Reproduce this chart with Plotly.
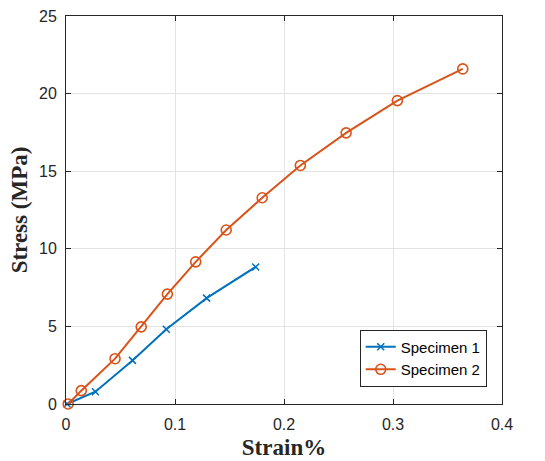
import plotly.graph_objects as go

# Data
s1_strain = [0.001, 0.027, 0.061, 0.092, 0.129, 0.174]
s1_stress = [0.0, 0.79, 2.81, 4.82, 6.82, 8.83]

s2_strain = [0.002, 0.014, 0.045, 0.069, 0.093, 0.119, 0.147, 0.180, 0.215, 0.257, 0.304, 0.364]
s2_stress = [0.0, 0.86, 2.92, 4.97, 7.08, 9.16, 11.21, 13.29, 15.37, 17.47, 19.55, 21.59]

x_ticks = [0, 0.1, 0.2, 0.3, 0.4]
x_ticklabels = ["0", "0.1", "0.2", "0.3", "0.4"]
y_ticks = [0, 5, 10, 15, 20, 25]
y_ticklabels = ["0", "5", "10", "15", "20", "25"]

BLUE = "#0072BD"
ORANGE = "#D95319"
AX = "#262626"

fig = go.Figure()
fig.add_trace(go.Scatter(
    x=s1_strain, y=s1_stress, name="Specimen 1", mode="lines+markers",
    line=dict(color=BLUE, width=2), cliponaxis=False,
    marker=dict(symbol="x-thin", size=7, line=dict(color=BLUE, width=1.5), color=BLUE),
))
fig.add_trace(go.Scatter(
    x=s2_strain, y=s2_stress, name="Specimen 2", mode="lines+markers",
    line=dict(color=ORANGE, width=2), cliponaxis=False,
    marker=dict(symbol="circle-open", size=10, line=dict(color=ORANGE, width=1.6), color=ORANGE),
))

axis_common = dict(
    showline=True, linecolor=AX, linewidth=1, mirror="ticks",
    ticks="inside", ticklen=5, tickcolor=AX, tickwidth=1,
    showgrid=True, gridcolor="#e3e3e3", gridwidth=1,
    zeroline=False, automargin=False,
    tickfont=dict(family="Liberation Sans, Arial, sans-serif", size=16, color=AX),
)

fig.update_xaxes(
    range=[0, 0.4], tickvals=x_ticks, ticktext=x_ticklabels,
    title=dict(text="<b>Strain%</b>", font=dict(family="Liberation Serif, serif", size=23, color=AX), standoff=6),
    ticklabelstandoff=6,
    **axis_common,
)
fig.update_yaxes(
    range=[0, 25], tickvals=y_ticks, ticktext=y_ticklabels,
    title=dict(text="<b>Stress (MPa)</b>", font=dict(family="Liberation Serif, serif", size=23, color=AX), standoff=4),
    ticklabelstandoff=5,
    **axis_common,
)

fig.update_layout(
    width=545, height=461,
    margin=dict(l=66, r=43, t=16, b=57),
    plot_bgcolor="white", paper_bgcolor="white",
    showlegend=True,
    legend=dict(
        x=0.965, y=0.045, xanchor="right", yanchor="bottom",
        bgcolor="white", bordercolor=AX, borderwidth=1,
        font=dict(family="Liberation Sans, Arial, sans-serif", size=15, color="black"),
        itemwidth=30, tracegroupgap=0,
    ),
)

fig.write_html(
    "out.html",
    config={"displayModeBar": False},
    post_script="document.body.style.margin='0';document.body.style.overflow='hidden';",
)
